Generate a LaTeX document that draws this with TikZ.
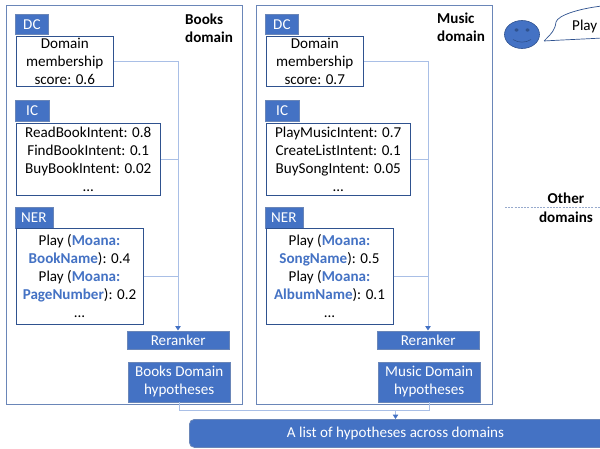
\documentclass[tikz,border=0pt]{standalone}
\usepackage{fontspec}
\setmainfont{Carlito}
\usetikzlibrary{arrows.meta,shapes.geometric}
\definecolor{acc}{HTML}{4472C4}
\definecolor{edgeb}{HTML}{2F528F}
\definecolor{outer}{HTML}{6A86B8}
\definecolor{wire}{HTML}{A9BFE6}
\definecolor{lnk}{HTML}{4472C4}
\tikzset{
 x=1pt,y=-1pt,
 every node/.style={font=\fontsize{15.1}{18}\selectfont},
 sz/.style 2 args={minimum width=#1pt,minimum height=#2pt},
 outerbox/.style={draw=outer,line width=1pt,anchor=north west,inner sep=0pt,fill=white},
 tabbox/.style={draw=outer,fill=acc,text=white,line width=.8pt,anchor=north west,inner sep=0pt,align=center},
 scorebox/.style={draw=edgeb,fill=white,line width=1pt,anchor=north west,inner sep=0pt,align=center},
 bluebox/.style={draw=outer,fill=acc,text=white,line width=.8pt,anchor=north west,inner sep=0pt,align=center},
 titletext/.style={anchor=north west,inner sep=0pt,align=left,font=\fontsize{15.1}{18}\selectfont\bfseries},
 boldtext/.style={inner sep=0pt,font=\fontsize{15.1}{18}\selectfont\bfseries},
 wireline/.style={draw=wire,line width=1pt},
 wirearrow/.style={draw=wire,line width=1pt,-{Triangle[length=4.5pt,width=5.5pt,color=lnk]}},
}
\newcommand{\slot}[1]{\textcolor{lnk}{\textbf{#1}}}
\begin{document}
\begin{tikzpicture}
\useasboundingbox (0,0) rectangle (600,448);
\fill[white] (0,0) rectangle (600,448);
% outer domains
\node[outerbox,sz={236}{399}] (booksdom) at (5.5,4.5) {};
\node[outerbox,sz={236}{399}] (musicdom) at (255.5,4.5) {};
\node[titletext] (bookstitle) at (185,13.5) {Books\\domain};
\node[titletext] (musictitle) at (437,13) {Music\\domain};
% Books
\node[tabbox,sz={33}{20.5}] (bdct) at (15,13.5) {DC};
\node[scorebox,sz={97.5}{50.5}] (bdc) at (15.5,35.5) {Domain\\membership\\score: 0.6};
\node[tabbox,sz={33.5}{20.5}] (bict) at (15,100) {IC};
\node[scorebox,sz={144.5}{72.5}] (bic) at (15.5,122.5) {ReadBookIntent: 0.8\\FindBookIntent: 0.1\\BuyBookIntent: 0.02\\...};
\node[tabbox,sz={38}{20.5}] (bnert) at (14.5,207) {NER};
\node[scorebox,sz={127}{96}] (bner) at (15.5,227.5) {Play (\slot{Moana:}\\\slot{BookName}): 0.4\\Play (\slot{Moana:}\\\slot{PageNumber}): 0.2\\...};
\node[bluebox,sz={101.5}{18.5}] (brr) at (127,330.5) {Reranker};
\node[bluebox,sz={101.5}{40}] (bhyp) at (128,361.5) {Books Domain\\hypotheses};
% Music
\node[tabbox,sz={33}{20.5}] (mdct) at (265,13.5) {DC};
\node[scorebox,sz={97.5}{50.5}] (mdc) at (265.5,35.5) {Domain\\membership\\score: 0.7};
\node[tabbox,sz={33.5}{20.5}] (mict) at (265,100) {IC};
\node[scorebox,sz={144.5}{72.5}] (mic) at (265.5,122.5) {PlayMusicIntent: 0.7\\CreateListIntent: 0.1\\BuySongIntent: 0.05\\...};
\node[tabbox,sz={38}{20.5}] (mnert) at (264.5,207) {NER};
\node[scorebox,sz={127}{96}] (mner) at (265.5,227.5) {Play (\slot{Moana:}\\\slot{SongName}): 0.5\\Play (\slot{Moana:}\\\slot{AlbumName}): 0.1\\...};
\node[bluebox,sz={101.5}{18.5}] (mrr) at (377,330.5) {Reranker};
\node[bluebox,sz={101.5}{40}] (mhyp) at (378,361.5) {Music Domain\\hypotheses};
% combined list
\node[draw=outer,fill=acc,text=white,line width=.8pt,rounded corners=5pt,anchor=north west,inner sep=0pt,sz={425}{28}] (all) at (189,419) {};
\node[text=white,inner sep=0pt] (alltext) at (395.5,433) {A list of hypotheses across domains};
% connectors
\coordinate (bbus) at (178,61);
\coordinate (mbus) at (428,61);
\coordinate (merge) at (395.5,410.5);
\draw[wireline] (bdc.east |- bbus) -- (bbus);
\draw[wirearrow] (bbus) -- (bbus |- brr.north);
\draw[wireline] (bic.east) -- (bic.east -| bbus);
\draw[wireline] (bner.east) -- (bner.east -| bbus);
\draw[wireline] (mdc.east |- mbus) -- (mbus);
\draw[wirearrow] (mbus) -- (mbus |- mrr.north);
\draw[wireline] (mic.east) -- (mic.east -| mbus);
\draw[wireline] (mner.east) -- (mner.east -| mbus);
\draw[wireline] (bhyp.south) |- (merge);
\draw[wireline] (mhyp.south) |- (merge);
\draw[wirearrow] (merge) -- (merge |- all.north);
% user
\node[draw=edgeb,fill=acc,ellipse,inner sep=0pt,minimum width=35pt,minimum height=28pt,line width=.6pt] (face) at (522,34.5) {};
\fill[edgeb] (516.5,30) ellipse (2pt and 1.6pt) (527.5,30) ellipse (2pt and 1.6pt);
\draw[edgeb,line width=.6pt] (513,39.5) .. controls (518,43) and (526,43) .. (531,39.5);
\coordinate (tip) at (544,41);
\draw[edgeb,line width=.7pt,fill=white] (tip) .. controls (552,33) and (555,30) .. (556,22) .. controls (558,15) and (580,8.5) .. (602,6) -- (602,38) .. controls (585,39) and (560,40) .. (tip);
\node[inner sep=0pt,anchor=west] (play) at (572,26) {Play};
% other domains
\coordinate (otherl) at (505,207.5);
\coordinate (otherr) at (600,207.5);
\draw[outer!70,line width=.6pt,dash pattern=on 2pt off 1.2pt] (otherl) -- (otherr);
\node[boldtext] (othera) at (566,198) {Other};
\node[boldtext] (otherb) at (566,217) {domains};
\end{tikzpicture}
\end{document}
